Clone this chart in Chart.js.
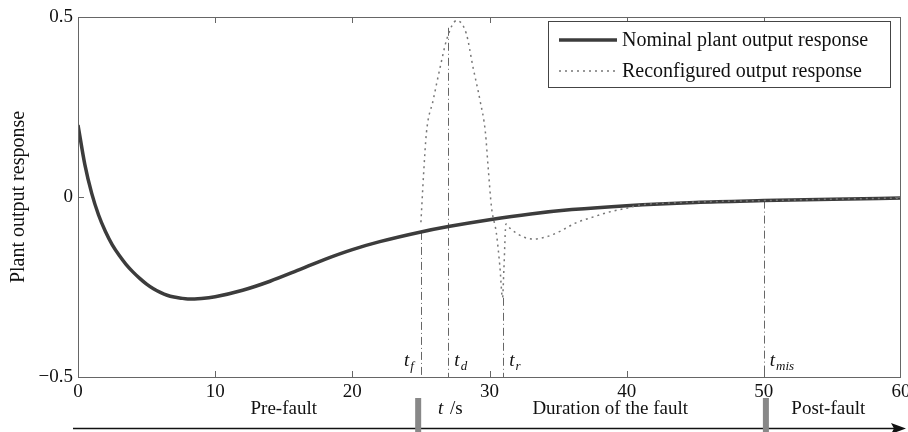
<!DOCTYPE html>
<html>
<head>
<meta charset="utf-8">
<script src="https://cdn.jsdelivr.net/npm/chart.js@4.4.1/dist/chart.umd.min.js"></script>
<style>
html, body { margin: 0; padding: 0; background: #fff; }
</style>
</head>
<body>
<canvas id="diagram" width="908" height="432"></canvas>
<script>
// Nominal plant output response
const nomT = [0, 0.5, 1, 1.5, 2, 2.5, 3, 3.5, 4, 4.5, 5, 5.5, 6, 6.5, 7, 7.5, 8, 8.5, 9, 10, 12, 14, 16, 18, 20, 22, 25, 27, 30, 33, 36, 40, 45, 50, 55, 60];
const nomY = [0.2, 0.09, 0.01, -0.05, -0.096, -0.133, -0.162, -0.187, -0.208, -0.226, -0.242, -0.255, -0.265, -0.273, -0.278, -0.281, -0.283, -0.283, -0.282, -0.277, -0.259, -0.234, -0.204, -0.173, -0.146, -0.124, -0.097, -0.082, -0.063, -0.047, -0.035, -0.024, -0.015, -0.01, -0.006, -0.003];

// Reconfigured output response
const recT = [25, 25.2, 25.4, 25.9, 26.4, 26.9, 27.6, 28.3, 28.8, 29.3, 29.7, 29.9, 30.15, 30.5, 30.75, 30.95, 31.05, 31.2, 31.5, 32.4, 33.2, 34.2, 35.1, 36.3, 37.6, 38.8, 40, 41, 43, 46, 50, 55, 60];
const recY = [-0.07, 0.067, 0.178, 0.27, 0.36, 0.44, 0.49, 0.455, 0.36, 0.27, 0.18, 0.083, -0.03, -0.1, -0.19, -0.28, -0.2, -0.075, -0.087, -0.11, -0.117, -0.11, -0.096, -0.072, -0.055, -0.041, -0.031, -0.022, -0.017, -0.013, -0.01, -0.006, -0.003];

// time markers t_f, t_d, t_r, t_mis
const markT = [25, 27, 31, 50];
const markTop = [-0.097, 0.47, -0.28, -0.01];
const markSub = ['f', 'd', 'r', 'mis'];

// phases under the axis
const phaseNames = ['Pre-fault', 'Duration of the fault', 'Post-fault'];
const phaseCentre = [15, 38.8, 54.7];
const phaseBounds = [24.8, 50.15];

const xTicks = [0, 10, 20, 30, 40, 50, 60];
const yTicks = [-0.5, 0, 0.5];

const serif = '"Liberation Serif", "Times New Roman", serif';

const decor = {
    id: 'decor',
    beforeDatasetsDraw(chart) {
        const { ctx, scales: { x, y } } = chart;
        ctx.save();
        ctx.strokeStyle = '#666';
        ctx.lineWidth = 1;
        ctx.setLineDash([8, 3, 1, 3]);
        markT.forEach((t, i) => {
            const px = Math.round(x.getPixelForValue(t)) + 0.5;
            ctx.beginPath();
            ctx.moveTo(px, y.getPixelForValue(markTop[i]));
            ctx.lineTo(px, y.getPixelForValue(-0.5));
            ctx.stroke();
        });
        ctx.restore();
    },
    afterDraw(chart) {
        const { ctx, chartArea: a, scales: { x, y } } = chart;
        ctx.save();
        // frame
        ctx.strokeStyle = '#666';
        ctx.lineWidth = 1;
        ctx.strokeRect(a.left + 0.5, a.top + 0.5, a.right - a.left - 1, a.bottom - a.top);
        ctx.beginPath();
        xTicks.slice(1, -1).forEach(t => {
            const px = Math.round(x.getPixelForValue(t)) + 0.5;
            ctx.moveTo(px, a.bottom); ctx.lineTo(px, a.bottom - 6);
            ctx.moveTo(px, a.top); ctx.lineTo(px, a.top + 6);
        });
        const py0 = Math.round(y.getPixelForValue(0)) + 0.5;
        ctx.moveTo(a.left, py0); ctx.lineTo(a.left + 6, py0);
        ctx.moveTo(a.right, py0); ctx.lineTo(a.right - 6, py0);
        ctx.stroke();

        // marker labels
        ctx.fillStyle = '#111';
        ctx.textBaseline = 'alphabetic';
        markT.forEach((t, i) => {
            const px = x.getPixelForValue(t);
            ctx.font = 'italic 19px ' + serif;
            const tw = ctx.measureText('t').width;
            ctx.font = 'italic 13px ' + serif;
            const sw = ctx.measureText(markSub[i]).width;
            let lx = i === 0 ? px - 8 - tw - sw : px + 6;
            ctx.font = 'italic 19px ' + serif;
            ctx.fillText('t', lx, 366);
            ctx.font = 'italic 13px ' + serif;
            ctx.fillText(markSub[i], lx + tw + 1, 370);
        });

        // legend
        const lx = 548.5, ly = 21.5;
        ctx.fillStyle = '#fff';
        ctx.fillRect(lx, ly, 342, 66);
        ctx.strokeStyle = '#444';
        ctx.lineWidth = 1;
        ctx.strokeRect(lx, ly, 342, 66);
        chart.data.datasets.forEach((ds, row) => {
            const ry = 40 + row * 31;
            ctx.strokeStyle = ds.borderColor;
            ctx.lineWidth = ds.borderWidth;
            ctx.setLineDash(ds.borderDash || []);
            ctx.beginPath();
            ctx.moveTo(559, ry); ctx.lineTo(617, ry);
            ctx.stroke();
            ctx.setLineDash([]);
            ctx.fillStyle = '#111';
            ctx.font = '20px ' + serif;
            ctx.textBaseline = 'middle';
            ctx.fillText(ds.label, 622, ry + 1);
        });

        // phase timeline
        ctx.strokeStyle = '#111';
        ctx.lineWidth = 1.5;
        ctx.beginPath();
        ctx.moveTo(73, 428.5); ctx.lineTo(895, 428.5);
        ctx.stroke();
        ctx.fillStyle = '#111';
        ctx.beginPath();
        ctx.moveTo(906, 428.5); ctx.lineTo(891, 423); ctx.lineTo(894, 428.5); ctx.lineTo(891, 434);
        ctx.closePath();
        ctx.fill();
        ctx.fillStyle = '#888';
        phaseBounds.forEach(t => {
            const px = x.getPixelForValue(t);
            ctx.fillRect(px - 3, 398, 6, 34);
        });
        ctx.fillStyle = '#111';
        ctx.font = '19px ' + serif;
        ctx.textAlign = 'center';
        ctx.textBaseline = 'alphabetic';
        phaseNames.forEach((n, i) => ctx.fillText(n, x.getPixelForValue(phaseCentre[i]), 414));
        // axis title t /s
        ctx.textAlign = 'left';
        ctx.font = 'italic 19px ' + serif;
        ctx.fillText('t', 438, 414);
        const tw = ctx.measureText('t ').width;
        ctx.font = '19px ' + serif;
        ctx.fillText('/s', 438 + tw + 2, 414);
        ctx.restore();
    }
};

const ctx = document.getElementById('diagram').getContext('2d');

new Chart(ctx, {
    type: 'line',
    data: {
        datasets: [
            {
                label: 'Nominal plant output response',
                data: nomT.map((t, i) => ({ x: t, y: nomY[i] })),
                borderColor: '#3c3c3c',
                borderWidth: 3.5,
                pointRadius: 0,
                cubicInterpolationMode: 'monotone',
                order: 1
            },
            {
                label: 'Reconfigured output response',
                data: recT.map((t, i) => ({ x: t, y: recY[i] })),
                borderColor: '#777',
                borderWidth: 1.5,
                borderDash: [2, 4],
                pointRadius: 0,
                cubicInterpolationMode: 'monotone',
                order: 0
            }
        ]
    },
    options: {
        responsive: false,
        animation: false,
        layout: { padding: { left: 0, right: 7, top: 17, bottom: 0 } },
        plugins: { legend: { display: false }, tooltip: { enabled: false } },
        scales: {
            x: {
                type: 'linear',
                min: 0,
                max: 60,
                grid: { display: false, drawTicks: false },
                border: { display: false },
                ticks: {
                    stepSize: 10,
                    padding: 4,
                    color: '#111',
                    font: { family: serif, size: 19 }
                },
                afterFit(scale) { scale.height = 55; scale.paddingLeft = 0; scale.paddingRight = 0; }
            },
            y: {
                min: -0.5,
                max: 0.5,
                grid: { display: false, drawTicks: false },
                border: { display: false },
                afterBuildTicks(scale) { scale.ticks = yTicks.map(v => ({ value: v })); },
                ticks: {
                    padding: 5,
                    color: '#111',
                    font: { family: serif, size: 19 },
                    callback: v => v === 0 ? '0' : (v < 0 ? '\u2212' + Math.abs(v) : String(v))
                },
                title: {
                    display: true,
                    text: 'Plant output response',
                    color: '#111',
                    font: { family: serif, size: 20 },
                    padding: { top: 7, bottom: 0 }
                },
                afterFit(scale) { scale.width = 78; scale.paddingTop = 0; scale.paddingBottom = 0; }
            }
        }
    },
    plugins: [decor]
});
</script>
</body>
</html>
